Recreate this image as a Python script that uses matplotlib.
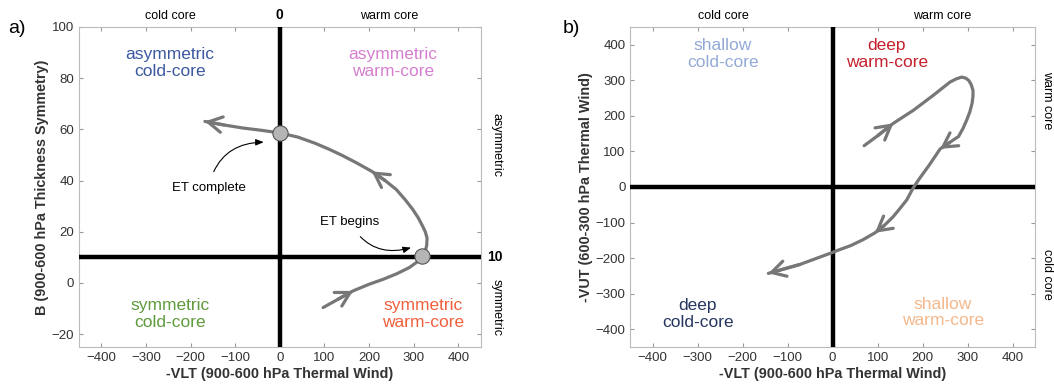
import matplotlib
matplotlib.use("Agg")
import matplotlib.pyplot as plt

plt.rcParams['font.family'] = ['Liberation Sans', 'DejaVu Sans']

# panel a trajectory (-VLT, B)
a_x = [97, 130, 164, 200, 231, 262, 290, 306, 319, 326, 329, 330, 326, 320, 310, 298, 281, 261, 236, 206,
       171, 140, 112, 80, 40, 0, -40, -82, -125, -168]
a_y = [-9.6, -6.4, -3.1, -0.5, 1.4, 3.6, 6.0, 8.0, 10.5, 12.5, 14.5, 17.5, 20.0, 22.2, 25.5, 28.7, 32.5, 36.5, 40.0, 43.6,
       47.0, 49.8, 52.1, 54.5, 57.0, 58.6, 59.6, 60.5, 61.7, 63.1]
a_arrows = [2, 19, 29]        # indices where a chevron points
a_dots = [8, 25]              # ET begins, ET complete

# panel b trajectory (-VLT, -VUT)
b_x = [70, 100, 135, 158, 180, 202, 224, 243, 261, 275, 287, 296, 303, 308, 312, 312, 310, 305, 298, 290,
       280, 260, 239, 215, 191, 178, 165, 150, 135, 115, 94, 68, 40, 16, 0, -28, -73, -143]
b_y = [116, 144, 179, 198, 216, 237, 258, 277, 295, 304, 309, 306, 299, 288, 272, 255, 235, 211, 188, 165,
       142, 125, 107, 62, 20, -5, -36, -60, -83, -108, -129, -148, -165, -176, -184, -197, -218, -243]
b_arrows = [2, 22, 30, 37]

a_quads = ["asymmetric\ncold-core", "asymmetric\nwarm-core", "symmetric\ncold-core", "symmetric\nwarm-core"]
a_quad_x = [-246, 253, -246, 320]
a_quad_y = [86, 86, -12, -12]
a_quad_c = ["#3b58a0", "#d47fcf", "#5f9a3c", "#f0603c"]

b_quads = ["shallow\ncold-core", "deep\nwarm-core", "deep\ncold-core", "shallow\nwarm-core"]
b_quad_x = [-244, 120, -300, 245]
b_quad_y = [375, 375, -358, -353]
b_quad_c = ["#93aad6", "#c41f2c", "#26365f", "#f4b88c"]

line_c = "#777777"

fig = plt.figure(figsize=(10.54, 3.87), dpi=100)
ax1 = fig.add_axes([0.075, 0.1034, 0.381, 0.827])
ax2 = fig.add_axes([0.598, 0.1034, 0.384, 0.827])


def style(ax):
    for s in ax.spines.values():
        s.set_color("#bbbbbb")
        s.set_linewidth(0.8)
    ax.tick_params(direction="in", top=True, right=True, color="#999999",
                   labelcolor="#333333", labelsize=9.5, length=3)
    ax.set_xlim(-450, 450)
    ax.set_xticks([-400, -300, -200, -100, 0, 100, 200, 300, 400])
    ax.set_xlabel("-VLT (900-600 hPa Thermal Wind)", fontsize=10.4, fontweight="bold",
                  color="#333333", labelpad=2)


def trajectory(ax, xs, ys, arrows):
    ax.plot(xs, ys, color=line_c, lw=2.3, solid_capstyle="round",
            solid_joinstyle="round", zorder=4)
    for i in arrows:
        ax.annotate("", xy=(xs[i], ys[i]), xytext=(xs[i - 1], ys[i - 1]),
                    arrowprops=dict(arrowstyle="->,head_length=0.5,head_width=0.28",
                                    color=line_c, lw=2.3, shrinkA=0, shrinkB=0,
                                    mutation_scale=20), zorder=4)


# ---- panel a
style(ax1)
ax1.set_ylim(-25, 100)
ax1.set_yticks([-20, 0, 20, 40, 60, 80, 100])
ax1.set_ylabel("B (900-600 hPa Thickness Symmetry)", fontsize=10.4, fontweight="bold",
               color="#333333", labelpad=2)
ax1.axhline(10, color="black", lw=3.2, zorder=3)
ax1.axvline(0, color="black", lw=3.2, zorder=3)
trajectory(ax1, a_x, a_y, a_arrows)
ax1.plot([a_x[i] for i in a_dots], [a_y[i] for i in a_dots], "o", ms=11,
         mfc="#b5b5b5", mec="#555555", mew=0.8, zorder=5)
for t, x, y, c in zip(a_quads, a_quad_x, a_quad_y, a_quad_c):
    ax1.text(x, y, t, color=c, fontsize=12.5, ha="center", va="center", linespacing=1.15)

ax1.annotate("ET complete", xy=(-36, 55), xytext=(-160, 37), fontsize=9.5,
             ha="center", va="center",
             arrowprops=dict(arrowstyle="-|>,head_length=0.5,head_width=0.2",
                             color="black", lw=0.8, connectionstyle="arc3,rad=-0.4",
                             shrinkA=6, shrinkB=0))
ax1.annotate("ET begins", xy=(294, 13.8), xytext=(156, 24), fontsize=9.5,
             ha="center", va="center",
             arrowprops=dict(arrowstyle="-|>,head_length=0.5,head_width=0.2",
                             color="black", lw=0.8, connectionstyle="arc3,rad=0.4",
                             shrinkA=6, shrinkB=0))

ax1.text(-246, 1.015, "cold core", transform=ax1.get_xaxis_transform(), fontsize=9,
         ha="center", va="bottom")
ax1.text(0, 1.015, "0", transform=ax1.get_xaxis_transform(), fontsize=10,
         fontweight="bold", ha="center", va="bottom")
ax1.text(246, 1.015, "warm core", transform=ax1.get_xaxis_transform(), fontsize=9,
         ha="center", va="bottom")
ax1.text(1.04, 54, "asymmetric", transform=ax1.get_yaxis_transform(), fontsize=9,
         rotation=-90, ha="center", va="center")
ax1.text(1.04, -9.5, "symmetric", transform=ax1.get_yaxis_transform(), fontsize=9,
         rotation=-90, ha="center", va="center")
ax1.text(1.015, 10, "10", transform=ax1.get_yaxis_transform(), fontsize=10,
         fontweight="bold", ha="left", va="center")
fig.text(0.008, 0.915, "a)", fontsize=14)

# ---- panel b
style(ax2)
ax2.set_ylim(-450, 450)
ax2.set_yticks([-400, -300, -200, -100, 0, 100, 200, 300, 400])
ax2.set_ylabel("-VUT (600-300 hPa Thermal Wind)", fontsize=10.4, fontweight="bold",
               color="#333333", labelpad=2)
ax2.axhline(0, color="black", lw=3.2, zorder=3)
ax2.axvline(0, color="black", lw=3.2, zorder=3)
trajectory(ax2, b_x, b_y, b_arrows)
for t, x, y, c in zip(b_quads, b_quad_x, b_quad_y, b_quad_c):
    ax2.text(x, y, t, color=c, fontsize=12.5, ha="center", va="center", linespacing=1.15)

ax2.text(-244, 1.015, "cold core", transform=ax2.get_xaxis_transform(), fontsize=9,
         ha="center", va="bottom")
ax2.text(244, 1.015, "warm core", transform=ax2.get_xaxis_transform(), fontsize=9,
         ha="center", va="bottom")
ax2.text(1.03, 244, "warm core", transform=ax2.get_yaxis_transform(), fontsize=9,
         rotation=-90, ha="center", va="center")
ax2.text(1.03, -246, "cold core", transform=ax2.get_yaxis_transform(), fontsize=9,
         rotation=-90, ha="center", va="center")
fig.text(0.534, 0.915, "b)", fontsize=14)

fig.savefig("out.png", dpi=100)
